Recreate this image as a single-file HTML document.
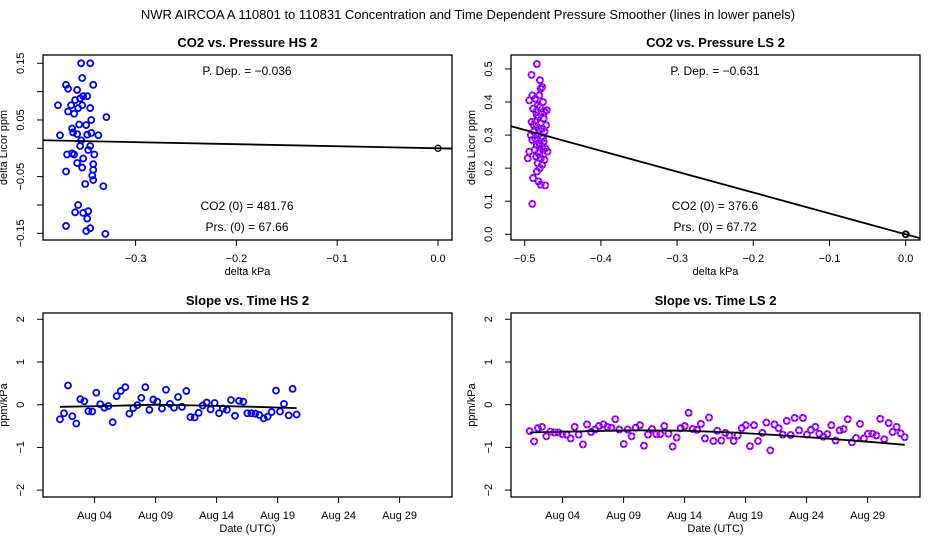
<!DOCTYPE html>
<html><head><meta charset="utf-8"><style>
body{margin:0;background:#fff}
svg{display:block;font-family:"Liberation Sans",sans-serif}
</style></head><body>
<svg id="chart" width="936" height="540">
<text x="468" y="19" font-size="13" text-anchor="middle">NWR   AIRCOA A   110801 to 110831   Concentration and Time Dependent Pressure Smoother (lines in lower panels)</text>
</svg>
<script>
// ---- data ----
const hsPresX=[-0.354,-0.345,-0.353,-0.369,-0.342,-0.367,-0.358,-0.352,-0.348,-0.355,-0.360,-0.377,-0.364,-0.353,-0.357,-0.345,-0.367,-0.361,-0.329,-0.344,-0.356,-0.349,-0.363,-0.362,-0.358,-0.344,-0.348,-0.375,-0.337,-0.354,-0.355,-0.345,-0.347,-0.368,-0.363,-0.361,-0.341,-0.352,-0.358,-0.342,-0.353,-0.342,-0.369,-0.343,-0.342,-0.350,-0.332,-0.357,-0.360,-0.347,-0.352,-0.348,-0.369,-0.345,-0.349,-0.330];
const hsPresY=[0.150,0.150,0.124,0.112,0.112,0.105,0.103,0.092,0.092,0.088,0.085,0.076,0.076,0.076,0.071,0.071,0.065,0.061,0.055,0.050,0.042,0.041,0.035,0.028,0.025,0.027,0.024,0.023,0.023,0.014,0.004,0.004,-0.003,-0.011,-0.009,-0.011,-0.011,-0.018,-0.026,-0.028,-0.034,-0.038,-0.041,-0.048,-0.056,-0.063,-0.067,-0.100,-0.113,-0.111,-0.114,-0.124,-0.137,-0.141,-0.146,-0.151];
const hsSlope=-0.036;
const lsPresX=[-0.484,-0.491,-0.480,-0.477,-0.479,-0.481,-0.490,-0.494,-0.486,-0.476,-0.483,-0.480,-0.489,-0.471,-0.485,-0.478,-0.482,-0.475,-0.491,-0.486,-0.479,-0.472,-0.484,-0.477,-0.481,-0.488,-0.474,-0.483,-0.478,-0.486,-0.490,-0.475,-0.481,-0.484,-0.477,-0.473,-0.487,-0.480,-0.470,-0.494,-0.482,-0.476,-0.485,-0.496,-0.479,-0.474,-0.483,-0.477,-0.480,-0.484,-0.489,-0.482,-0.479,-0.473,-0.490,-0.488,-0.476,-0.484,-0.480,-0.474,-0.492];
const lsPresY=[0.515,0.482,0.466,0.445,0.44,0.42,0.42,0.405,0.41,0.40,0.39,0.385,0.38,0.375,0.37,0.365,0.355,0.35,0.34,0.34,0.335,0.33,0.325,0.32,0.315,0.31,0.31,0.30,0.295,0.29,0.285,0.28,0.275,0.27,0.265,0.26,0.255,0.25,0.25,0.25,0.245,0.24,0.235,0.23,0.23,0.225,0.215,0.21,0.20,0.19,0.17,0.16,0.15,0.148,0.092,0.33,0.29,0.36,0.27,0.37,0.30];
const lsSlope=-0.631;
const hsDays=[1.16,1.49,1.82,2.17,2.50,2.83,3.16,3.49,3.81,4.14,4.47,4.80,5.13,5.48,5.81,6.14,6.52,6.85,7.17,7.50,7.83,8.16,8.49,8.81,9.14,9.52,9.85,10.18,10.51,10.84,11.16,11.52,11.85,12.20,12.53,12.86,13.19,13.51,13.84,14.20,14.52,14.85,15.18,15.51,15.84,16.19,16.52,16.85,17.17,17.50,17.86,18.19,18.51,18.87,19.20,19.52,19.91,20.23,20.56];
const hsVals=[-0.34,-0.20,0.45,-0.27,-0.44,0.13,0.08,-0.15,-0.16,0.28,0.01,-0.07,-0.03,-0.41,0.20,0.32,0.41,-0.21,-0.08,-0.01,0.16,0.41,-0.12,0.12,0.07,-0.09,0.35,0.02,-0.07,0.18,-0.05,0.32,-0.29,-0.30,-0.19,-0.02,0.05,-0.11,0.04,-0.20,-0.09,-0.12,0.11,-0.26,0.09,0.07,-0.20,-0.20,-0.21,-0.24,-0.32,-0.28,-0.17,0.33,-0.16,0.02,-0.25,0.37,-0.23];
const hsSmDays=[1.16,5,9,13,17,20.56];
const hsSmVals=[-0.05,-0.03,0.0,-0.02,-0.05,-0.08];
const lsDays=[1.30,1.66,1.98,2.31,2.67,2.99,3.32,3.65,3.98,4.33,4.66,4.99,5.32,5.67,6.00,6.33,6.66,6.98,7.34,7.67,7.99,8.32,8.65,9.01,9.33,9.66,9.99,10.34,10.67,11.00,11.33,11.68,12.01,12.34,12.67,13.02,13.35,13.68,14.01,14.33,14.66,15.02,15.34,15.67,16.00,16.36,16.68,17.01,17.34,17.67,18.02,18.35,18.68,19.01,19.36,19.69,20.02,20.37,20.70,21.03,21.36,21.71,22.04,22.37,22.69,23.02,23.38,23.70,24.03,24.36,24.72,25.04,25.37,25.70,26.03,26.38,26.71,27.04,27.37,27.72,28.05,28.38,28.70,29.03,29.39,29.72,30.04,30.37,30.73,31.05,31.38,31.71,32.04];
const lsVals=[-0.62,-0.86,-0.55,-0.52,-0.74,-0.63,-0.65,-0.65,-0.69,-0.70,-0.79,-0.52,-0.70,-0.93,-0.46,-0.64,-0.58,-0.50,-0.46,-0.52,-0.54,-0.34,-0.58,-0.92,-0.58,-0.74,-0.54,-0.48,-0.96,-0.70,-0.57,-0.69,-0.69,-0.50,-0.68,-0.98,-0.77,-0.55,-0.50,-0.19,-0.57,-0.59,-0.45,-0.79,-0.30,-0.85,-0.61,-0.84,-0.66,-0.72,-0.85,-0.72,-0.55,-0.48,-0.97,-0.48,-0.85,-0.66,-0.42,-1.07,-0.46,-0.55,-0.70,-0.38,-0.71,-0.31,-0.60,-0.31,-0.70,-0.59,-0.52,-0.68,-0.75,-0.69,-0.48,-0.84,-0.60,-0.57,-0.34,-0.88,-0.78,-0.45,-0.79,-0.68,-0.68,-0.72,-0.33,-0.81,-0.43,-0.64,-0.52,-0.67,-0.76];
const lsSmDays=[1.3,6,10,14,18,22,26,30,32.04];
const lsSmVals=[-0.65,-0.62,-0.60,-0.61,-0.65,-0.72,-0.80,-0.89,-0.94];
const dateTicks=[4,9,14,19,24,29];
const dateLabels=["Aug 04","Aug 09","Aug 14","Aug 19","Aug 24","Aug 29"];
const slopeTicks=[2,1,0,-1,-2];
const slopeTickLabels=["2","1","0","\u22121","\u22122"];

const NS="http://www.w3.org/2000/svg";
const svg=document.getElementById('chart');
function mk(tag,attrs,parent){const e=document.createElementNS(NS,tag);for(const k in attrs)e.setAttribute(k,attrs[k]);(parent||svg).appendChild(e);return e;}
function txt(x,y,s,size,opts,parent){const e=mk('text',Object.assign({x:x,y:y,'font-size':size,'text-anchor':'middle'},opts||{}),parent);e.textContent=s;return e;}

function panel(p){
  const g=mk('g',{});
  
  
  const box=mk('rect',{x:p.L,y:p.T,width:p.R-p.L,height:p.B-p.T,fill:'none',stroke:'#000','stroke-width':1.3},g);
  
  
  const t=txt((p.L+p.R)/2,p.T-8,p.title,13,{'font-weight':'bold'},g);
  
  
  p.xt.forEach((v,i)=>{const x=p.sx(v);
    mk('line',{x1:x,x2:x,y1:p.B,y2:p.B+6,stroke:'#000'},g);
    const l=txt(x,p.B+22,p.xl[i],11,{},g);
    
    });
  mk('line',{x1:p.sx(p.xt[0]),x2:p.sx(p.xt[p.xt.length-1]),y1:p.B,y2:p.B,stroke:'#000'},g);
  const xa=txt((p.L+p.R)/2,p.B+35,p.xtitle,11,{},g);
  
  
  p.yt.forEach((v,i)=>{const y=p.sy(v);
    mk('line',{x1:p.L,x2:p.L-6,y1:y,y2:y,stroke:'#000'},g);
    if(p.yl[i]!==''){const l=txt(p.L-19,y,p.yl[i],11,{transform:`rotate(-90 ${p.L-19} ${y})`},g);
    
    }});
  mk('line',{x1:p.L,x2:p.L,y1:p.sy(p.yt[0]),y2:p.sy(p.yt[p.yt.length-1]),stroke:'#000'},g);
  const yc=(p.T+p.B)/2;
  const ya=txt(p.L-36,yc,p.ytitle,11,{transform:`rotate(-90 ${p.L-36} ${yc})`},g);
  
  
  return g;
}
function clipFor(p,id){const c=mk('clipPath',{id:id});mk('rect',{x:p.L,y:p.T,width:p.R-p.L,height:p.B-p.T},c);return `url(#${id})`;}
function pts(g,p,xs,ys,ls){
  xs.forEach((x,i)=>{
    const c=mk('circle',{cx:p.sx(x),cy:p.sy(ys[i]),r:3,fill:'none',stroke:'#0000ff','stroke-width':1.8},g);
    
    
    if(ls){mk('circle',{cx:p.sx(x),cy:p.sy(ys[i]),r:3,fill:'none',stroke:'#ff00ff','stroke-width':1.8,'stroke-dasharray':'2 1.4'},g);}
  });
}
function poly(g,p,xs,ys,clip,name){
  const d=xs.map((x,i)=>(i?'L':'M')+p.sx(x).toFixed(1)+' '+p.sy(ys[i]).toFixed(1)).join(' ');
  const e=mk('path',{d:d,fill:'none',stroke:'#000','stroke-width':1.8,'clip-path':clip},g);
  
  
}

{const p={name:'co2-vs-pressure-hs-panel',L:43,R:452,T:55,B:240,title:'CO2 vs. Pressure HS 2',xtitle:'delta kPa',ytitle:'delta Licor ppm',
  sx:v=>438+v*1008,sy:v=>148.3-v*566.7,xt:[-0.3,-0.2,-0.1,0],xl:['\u22120.3','\u22120.2','\u22120.1','0.0'],
  yt:[0.15,0.10,0.05,0,-0.05,-0.10,-0.15],yl:['0.15','','0.05','','\u22120.05','','\u22120.15']};
 const g=panel(p);const cl=clipFor(p,'c1');
 pts(g,p,hsPresX,hsPresY,false);
 poly(g,p,[-0.4,0.02],[-0.4*hsSlope,0.02*hsSlope],cl,'fit-line');
 mk('circle',{cx:p.sx(0),cy:p.sy(0),r:3,fill:'none',stroke:'#000','stroke-width':1.3},g);
 txt(247,75,'P. Dep. =  \u22120.036',12,{},g);
 txt(247,210,'CO2 (0) =  481.76',12,{},g);
 txt(247,231,'Prs. (0) =  67.66',12,{},g);}
{const p={name:'co2-vs-pressure-ls-panel',L:511,R:920,T:55,B:240,title:'CO2 vs. Pressure LS 2',xtitle:'delta kPa',ytitle:'delta Licor ppm',
  sx:v=>905.7+v*762,sy:v=>234.3-v*330.7,xt:[-0.5,-0.4,-0.3,-0.2,-0.1,0],xl:['\u22120.5','\u22120.4','\u22120.3','\u22120.2','\u22120.1','0.0'],
  yt:[0.5,0.4,0.3,0.2,0.1,0],yl:['0.5','0.4','0.3','0.2','0.1','0.0']};
 const g=panel(p);const cl=clipFor(p,'c2');
 pts(g,p,lsPresX,lsPresY,true);
 poly(g,p,[-0.53,0.03],[-0.53*lsSlope,0.03*lsSlope],cl,'fit-line');
 mk('circle',{cx:p.sx(0),cy:p.sy(0),r:3,fill:'none',stroke:'#000','stroke-width':1.8},g);
 txt(715,75,'P. Dep. =  \u22120.631',12,{},g);
 txt(715,210,'CO2 (0) =  376.6',12,{},g);
 txt(715,231,'Prs. (0) =  67.72',12,{},g);}
{const p={name:'slope-vs-time-hs-panel',L:43,R:452,T:313,B:497,title:'Slope vs. Time HS 2',xtitle:'Date (UTC)',ytitle:'ppm/kPa',
  sx:v=>58+(v-1)*12.2,sy:v=>404.7-v*42.7,xt:dateTicks,xl:dateLabels,yt:slopeTicks,yl:slopeTickLabels};
 const g=panel(p);const cl=clipFor(p,'c3');
 pts(g,p,hsDays,hsVals,false);
 poly(g,p,hsSmDays,hsSmVals,cl,'smoother-line');}
{const p={name:'slope-vs-time-ls-panel',L:511,R:920,T:313,B:497,title:'Slope vs. Time LS 2',xtitle:'Date (UTC)',ytitle:'ppm/kPa',
  sx:v=>526+(v-1)*12.2,sy:v=>404.7-v*42.7,xt:dateTicks,xl:dateLabels,yt:slopeTicks,yl:slopeTickLabels};
 const g=panel(p);const cl=clipFor(p,'c4');
 pts(g,p,lsDays,lsVals,true);
 poly(g,p,lsSmDays,lsSmVals,cl,'smoother-line');}
</script>
</body></html>
